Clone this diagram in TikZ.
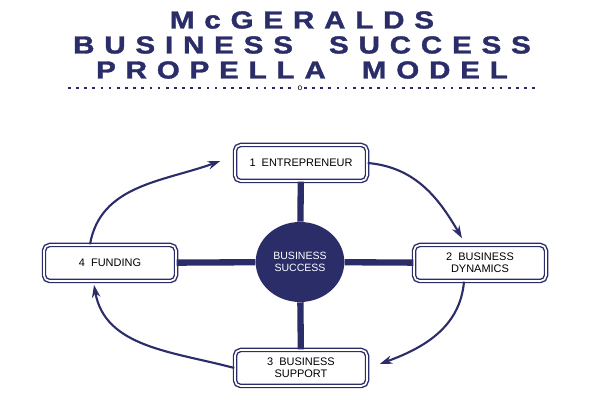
\documentclass[tikz,border=0pt]{standalone}
\usepackage{fontspec}
\setmainfont{Liberation Sans}
\newfontfamily\titlefont[FakeStretch=1.2,LetterSpace=40,FakeBold=1.5,
  UprightFont=*-Bold]{Liberation Sans}
\usetikzlibrary{arrows.meta,shapes.geometric}
\definecolor{navy}{RGB}{43,45,105}
\begin{document}
\begin{tikzpicture}[>={Stealth[length=9pt,width=6pt]},
  stage/.style={draw=navy,line width=1pt,double=white,double distance=1.2pt,
    rounded corners=4pt,fill=white,minimum width=3.3cm,minimum height=0.9cm,
    align=center,font=\fontsize{7.8}{8.5}\selectfont,text=black},
  spoke/.style={navy,line width=4.5pt},
  cycle/.style={->,navy,line width=1.5pt}]
\useasboundingbox (0,0) rectangle (15,10);

\node[navy,font=\titlefont\fontsize{17.5}{18}\selectfont] (t1) at (7.55,9.5) {McGERALDS};
\node[navy,font=\titlefont\fontsize{17.5}{18}\selectfont] (t2) at (7.55,8.875) {BUSINESS\ \ SUCCESS};
\node[navy,font=\titlefont\fontsize{17.5}{18}\selectfont] (t3) at (7.55,8.25) {PROPELLA\ \ MODEL};
\node[font=\fontsize{6}{6}\selectfont,inner sep=1pt] (o) at (7.5,7.8) {o};
\draw[navy,line width=1.9pt,dash pattern=on 1.9pt off 3.9pt] (1.7,7.8) -- (o.west);
\draw[navy,line width=1.9pt,dash pattern=on 1.9pt off 3.9pt] (o.east) -- (13.38,7.8);

\node[ellipse,fill=navy,minimum width=2.1cm,minimum height=2cm,text=white,
  align=center,font=\fontsize{7.5}{8}\selectfont] (core) at (7.5,3.45) {BUSINESS\\SUCCESS};

\node[stage] (entre) at (7.525,5.925) {1\ \ ENTREPRENEUR};
\node[stage] (dyn) at (12.0,3.425) {2\ \ BUSINESS\\DYNAMICS};
\node[stage] (supp) at (7.525,0.8) {3\ \ BUSINESS\\SUPPORT};
\node[stage] (fund) at (2.75,3.425) {4\ \ FUNDING};

\draw[spoke] (core) -- (entre);
\draw[spoke] (core) -- (dyn);
\draw[spoke] (core) -- (supp);
\draw[spoke] (core) -- (fund);

\draw[cycle] (entre.east) to[out=-5,in=120] ([xshift=-0.45cm,yshift=0.15cm]dyn.north);
\draw[cycle] ([xshift=-0.4cm]dyn.south) to[out=-95,in=20] ([xshift=0.3cm,yshift=0.1cm]supp.east);
\draw[cycle] (supp.west) to[out=165,in=-80] ([xshift=-0.4cm,yshift=-0.08cm]fund.south);
\draw[cycle] ([xshift=-0.5cm]fund.north) to[out=80,in=200] ([xshift=-0.35cm,yshift=0.05cm]entre.west);
\end{tikzpicture}
\end{document}
